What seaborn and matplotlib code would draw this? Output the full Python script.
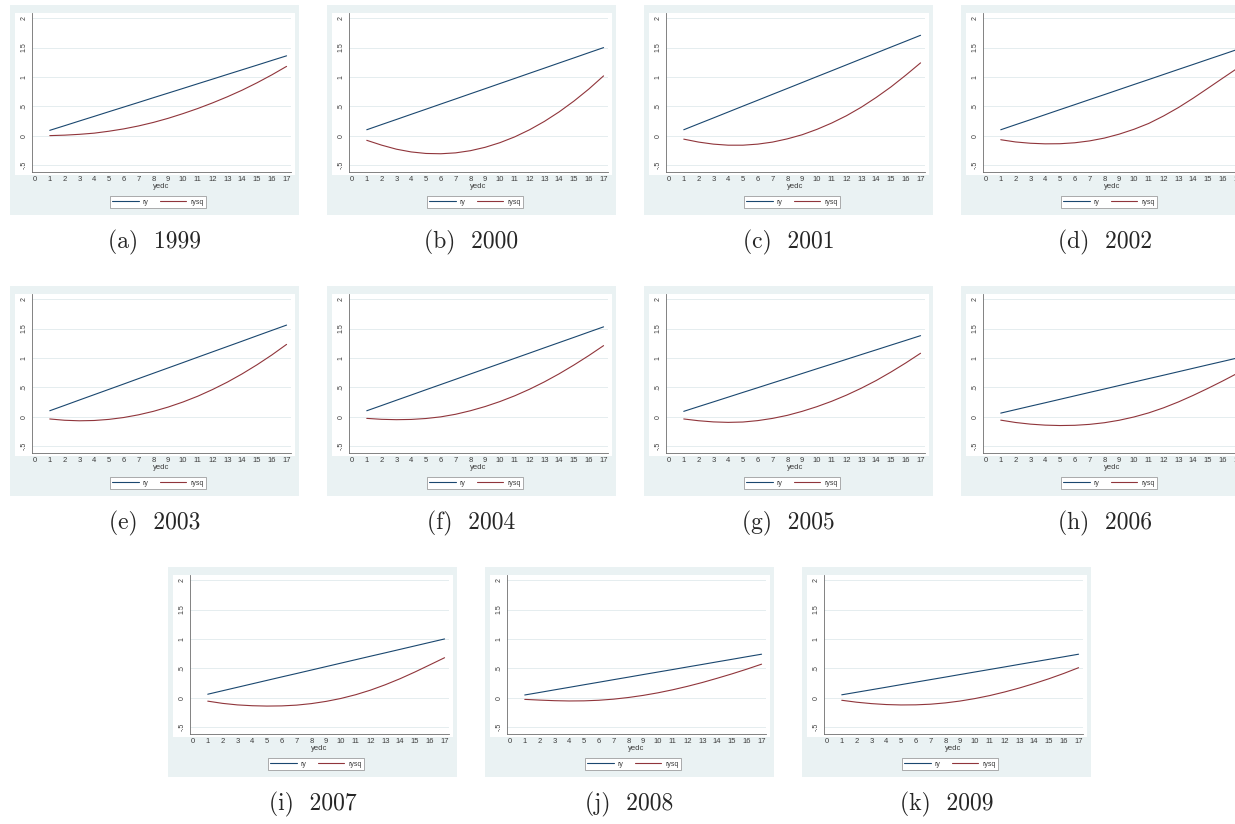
import matplotlib
matplotlib.use("Agg")
import matplotlib.pyplot as plt
from matplotlib.patches import Rectangle
from matplotlib.lines import Line2D
import pandas as pd
import seaborn as sns

# ---- data -----------------------------------------------------------
yedc = list(range(1, 18))
years = [1999, 2000, 2001, 2002, 2003, 2004, 2005, 2006, 2007, 2008, 2009]
letters = ["a", "b", "c", "d", "e", "f", "g", "h", "i", "j", "k"]
series_names = ["ry", "rysq"]
ytick_vals = [-0.5, 0, 0.5, 1, 1.5, 2]
ytick_text = ["-.5", "0", ".5", "1", "1.5", "2"]
xtick_vals = list(range(0, 18))

ry_1999 = [0.090, 0.169, 0.249, 0.328, 0.408, 0.487, 0.566, 0.646, 0.725, 0.804, 0.884, 0.963, 1.043, 1.122, 1.201, 1.281, 1.360]
rysq_1999 = [0.000, 0.008, 0.022, 0.042, 0.075, 0.115, 0.165, 0.225, 0.295, 0.375, 0.462, 0.558, 0.662, 0.775, 0.900, 1.035, 1.180]

ry_2000 = [0.100, 0.188, 0.275, 0.363, 0.450, 0.538, 0.625, 0.713, 0.800, 0.888, 0.975, 1.063, 1.150, 1.238, 1.325, 1.413, 1.500]
rysq_2000 = [-0.080, -0.162, -0.231, -0.278, -0.304, -0.309, -0.294, -0.257, -0.199, -0.120, -0.021, 0.100, 0.242, 0.405, 0.589, 0.793, 1.018]

ry_2001 = [0.100, 0.201, 0.301, 0.402, 0.503, 0.603, 0.704, 0.804, 0.905, 1.006, 1.106, 1.207, 1.308, 1.408, 1.509, 1.609, 1.710]
rysq_2001 = [-0.060, -0.110, -0.145, -0.163, -0.163, -0.145, -0.110, -0.055, 0.015, 0.107, 0.215, 0.340, 0.485, 0.650, 0.830, 1.030, 1.240]

ry_2002 = [0.100, 0.186, 0.271, 0.357, 0.443, 0.528, 0.614, 0.699, 0.785, 0.871, 0.956, 1.042, 1.128, 1.213, 1.299, 1.384, 1.470]
rysq_2002 = [-0.070, -0.108, -0.130, -0.140, -0.138, -0.122, -0.090, -0.042, 0.025, 0.108, 0.208, 0.335, 0.478, 0.638, 0.808, 0.980, 1.150]

ry_2003 = [0.100, 0.191, 0.283, 0.374, 0.465, 0.556, 0.648, 0.739, 0.830, 0.921, 1.013, 1.104, 1.195, 1.286, 1.378, 1.469, 1.560]
rysq_2003 = [-0.040, -0.062, -0.071, -0.066, -0.047, -0.015, 0.031, 0.090, 0.163, 0.249, 0.348, 0.462, 0.588, 0.729, 0.883, 1.050, 1.231]

ry_2004 = [0.100, 0.189, 0.279, 0.368, 0.458, 0.547, 0.636, 0.726, 0.815, 0.904, 0.994, 1.083, 1.173, 1.262, 1.351, 1.441, 1.530]
rysq_2004 = [-0.030, -0.046, -0.052, -0.048, -0.032, -0.004, 0.040, 0.100, 0.172, 0.257, 0.355, 0.467, 0.592, 0.730, 0.880, 1.040, 1.210]

ry_2005 = [0.090, 0.171, 0.251, 0.332, 0.413, 0.493, 0.574, 0.654, 0.735, 0.816, 0.896, 0.977, 1.058, 1.138, 1.219, 1.299, 1.380]
rysq_2005 = [-0.040, -0.070, -0.090, -0.098, -0.092, -0.068, -0.030, 0.022, 0.090, 0.170, 0.262, 0.367, 0.485, 0.615, 0.760, 0.915, 1.080]

ry_2006 = [0.060, 0.119, 0.178, 0.236, 0.295, 0.354, 0.413, 0.471, 0.530, 0.589, 0.648, 0.706, 0.765, 0.824, 0.883, 0.941, 1.000]
rysq_2006 = [-0.060, -0.100, -0.128, -0.145, -0.152, -0.148, -0.132, -0.104, -0.062, -0.006, 0.064, 0.150, 0.250, 0.362, 0.482, 0.608, 0.740]

ry_2007 = [0.058, 0.117, 0.176, 0.235, 0.294, 0.353, 0.411, 0.470, 0.529, 0.588, 0.647, 0.706, 0.764, 0.823, 0.882, 0.941, 1.000]
rysq_2007 = [-0.060, -0.098, -0.124, -0.138, -0.144, -0.141, -0.128, -0.102, -0.064, -0.014, 0.050, 0.128, 0.220, 0.323, 0.437, 0.558, 0.680]

ry_2008 = [0.045, 0.088, 0.132, 0.175, 0.219, 0.262, 0.306, 0.349, 0.393, 0.436, 0.479, 0.523, 0.566, 0.610, 0.653, 0.697, 0.740]
rysq_2008 = [-0.030, -0.042, -0.052, -0.057, -0.055, -0.045, -0.026, 0.002, 0.038, 0.082, 0.134, 0.193, 0.258, 0.330, 0.405, 0.485, 0.570]

ry_2009 = [0.048, 0.091, 0.134, 0.177, 0.221, 0.264, 0.307, 0.350, 0.394, 0.437, 0.480, 0.523, 0.567, 0.610, 0.653, 0.696, 0.740]
rysq_2009 = [-0.045, -0.078, -0.102, -0.118, -0.125, -0.123, -0.112, -0.090, -0.058, -0.016, 0.035, 0.096, 0.164, 0.240, 0.322, 0.412, 0.510]

ry_all = [ry_1999, ry_2000, ry_2001, ry_2002, ry_2003, ry_2004,
          ry_2005, ry_2006, ry_2007, ry_2008, ry_2009]
rysq_all = [rysq_1999, rysq_2000, rysq_2001, rysq_2002, rysq_2003, rysq_2004,
            rysq_2005, rysq_2006, rysq_2007, rysq_2008, rysq_2009]

# ---- style ----------------------------------------------------------
sns.set_theme(style="white")
plt.rcParams["font.family"] = ["Liberation Sans", "DejaVu Sans"]

NAVY = "#1A476F"
MAROON = "#90353B"
BG = "#EAF2F3"
GRID = "#E1EAED"
AXC = "#6E6E6E"
TXT = "#3c3c3c"

W, H = 1235, 824
fig = plt.figure(figsize=(W / 100, H / 100), dpi=100)
fig.patch.set_facecolor("white")


def fx(px):
    return px / W


def fy(py):
    return 1 - py / H


PW, PH = 289, 210
row_tops = [5, 286, 567]
row_lefts = [[10, 327, 644, 961], [10, 327, 644, 961], [168, 485, 802]]
origins = [(x, row_tops[r]) for r in range(3) for x in row_lefts[r]]

for k, (x0, y0) in enumerate(origins):
    # outer graph region and inner white region
    fig.add_artist(Rectangle((fx(x0), fy(y0 + PH)), PW / W, PH / H,
                             transform=fig.transFigure, facecolor=BG,
                             edgecolor="none", zorder=-3))
    fig.add_artist(Rectangle((fx(x0 + 5), fy(y0 + 170)), 280 / W, 162 / H,
                             transform=fig.transFigure, facecolor="white",
                             edgecolor="none", zorder=-2))

    ax = fig.add_axes([fx(x0 + 22), fy(y0 + 167), 259 / W, 159 / H])
    ax.set_facecolor("white")

    df = pd.DataFrame({
        "yedc": yedc * 2,
        "value": ry_all[k] + rysq_all[k],
        "series": ["ry"] * len(yedc) + ["rysq"] * len(yedc),
    })
    sns.lineplot(data=df, x="yedc", y="value", hue="series",
                 hue_order=series_names, palette=[NAVY, MAROON],
                 linewidth=0.8, ax=ax, legend=False)

    ax.set_xlim(-0.2, 17.3)
    ax.set_ylim(-0.62, 2.09)
    ax.set_xticks(xtick_vals)
    ax.set_xticklabels([str(v) for v in xtick_vals], fontsize=5.5)
    ax.set_yticks(ytick_vals)
    ax.set_yticklabels(ytick_text, rotation=90, va="center", fontsize=5)
    ax.tick_params(axis="both", length=2, width=0.5, pad=1,
                   color=AXC, labelcolor=TXT)
    ax.set_xlabel("yedc", fontsize=5.5, labelpad=0, color=TXT)
    ax.set_ylabel("")

    ax.yaxis.grid(True, color=GRID, linewidth=0.6)
    ax.xaxis.grid(False)
    ax.set_axisbelow(True)
    for side in ("top", "right"):
        ax.spines[side].set_visible(False)
    for side in ("left", "bottom"):
        ax.spines[side].set_color(AXC)
        ax.spines[side].set_linewidth(0.6)

    handles = [Line2D([], [], color=NAVY, linewidth=0.8),
               Line2D([], [], color=MAROON, linewidth=0.8)]
    leg = ax.legend(handles, series_names, loc="upper center",
                    bbox_to_anchor=(fx(x0 + 148), fy(y0 + 188)),
                    bbox_transform=fig.transFigure, ncol=2, fontsize=5,
                    handlelength=3.8, handletextpad=0.6, columnspacing=1.6,
                    borderpad=0.35, frameon=True, fancybox=False,
                    edgecolor="#8c8c8c", framealpha=1)
    leg.get_frame().set_linewidth(0.5)
    for t in leg.get_texts():
        t.set_color(TXT)

    fig.text(fx(x0 + PW / 2), fy(y0 + PH + 27),
             f"({letters[k]})  {years[k]}", ha="center", va="center",
             fontsize=17, fontfamily="cmr10")

fig.savefig("out.png", dpi=100)
